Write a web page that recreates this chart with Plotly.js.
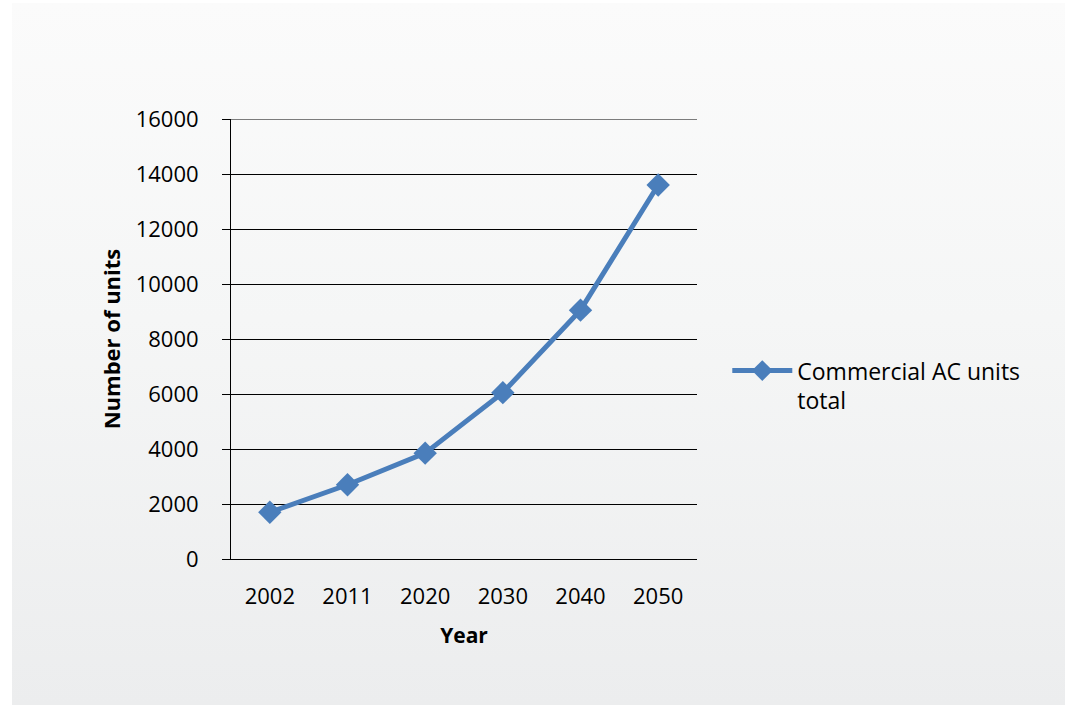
<!DOCTYPE html>
<html>
<head>
<meta charset="utf-8">
<script src="https://cdn.plot.ly/plotly-3.0.1.min.js"></script>
<style>
  html, body { margin: 0; padding: 0; background: #ffffff; width: 1065px; height: 705px; overflow: hidden; }
  #bg { position: absolute; left: 12px; top: 3px; width: 1053px; height: 702px;
        background: linear-gradient(to bottom, #fbfbfb 0%, #f5f6f6 45%, #ecedee 100%); }
  #chart { position: absolute; left: 0; top: 0; width: 1065px; height: 705px; }
</style>
</head>
<body>
<div id="bg"></div>
<div id="chart"></div>
<script>
const years = ["2002", "2011", "2020", "2030", "2040", "2050"];
const units = [1700, 2700, 3850, 6050, 9050, 13600];
const seriesName = "Commercial AC units<br>total";
const yTicks = [0, 2000, 4000, 6000, 8000, 10000, 12000, 14000, 16000];

const FONT = "'Open Sans', 'Noto Sans', sans-serif";

const trace = {
  x: years,
  y: units,
  type: "scatter",
  mode: "lines+markers",
  name: seriesName,
  line: { color: "#4a7ebb", width: 5 },
  marker: { symbol: "diamond", size: 18, color: "#4a7ebb" }
};

const yMax = yTicks[yTicks.length - 1];

const layout = {
  width: 1065,
  height: 705,
  paper_bgcolor: "rgba(0,0,0,0)",
  plot_bgcolor: "rgba(0,0,0,0)",
  margin: { l: 231, r: 368, t: 119, b: 146 },
  showlegend: true,
  font: { family: FONT, size: 22, color: "#000000" },
  xaxis: {
    type: "category",
    range: [-0.5, years.length - 0.5],
    showline: true,
    linecolor: "#000000",
    linewidth: 1,
    ticks: "",
    showgrid: false,
    zeroline: false,
    tickfont: { family: FONT, size: 22, color: "#000000" },
    ticklabelstandoff: 18,
    title: { text: "<b>Year</b>", font: { family: FONT, size: 21, color: "#000000" }, standoff: 18 }
  },
  yaxis: {
    range: [0, yMax],
    tickvals: yTicks,
    ticktext: yTicks.map(String),
    showline: true,
    linecolor: "#000000",
    linewidth: 1,
    ticks: "outside",
    ticklen: 8,
    tickcolor: "#000000",
    showgrid: true,
    gridcolor: "#000000",
    gridwidth: 1,
    zeroline: false,
    tickfont: { family: FONT, size: 22, color: "#000000" },
    ticklabelstandoff: 19,
    title: { text: "<b>Number of units</b>", font: { family: FONT, size: 22, color: "#000000" }, standoff: 8 }
  },
  shapes: [{
    type: "line", xref: "paper", yref: "y",
    x0: 0, x1: 1, y0: yMax, y1: yMax,
    line: { color: "#000000", width: 1 }
  }],
  legend: {
    x: 1.065,
    y: 0.477,
    xanchor: "left",
    yanchor: "top",
    valign: "top",
    bgcolor: "rgba(0,0,0,0)",
    font: { family: FONT, size: 23, color: "#000000" },
    itemwidth: 60
  }
};

Plotly.newPlot("chart", [trace], layout, { displayModeBar: false, staticPlot: true });
</script>
</body>
</html>
